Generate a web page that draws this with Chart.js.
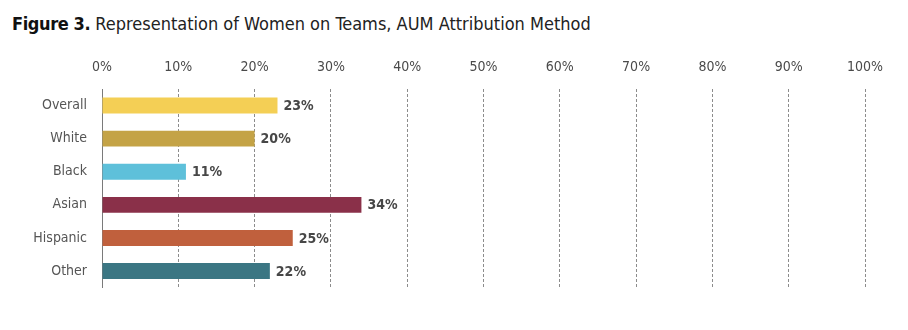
<!DOCTYPE html>
<html>
<head>
<meta charset="utf-8">
<script src="https://cdn.jsdelivr.net/npm/chart.js@4/dist/chart.umd.min.js"></script>
<style>
  html, body { margin: 0; padding: 0; background: #fff; }
  body { width: 908px; height: 330px; position: relative; overflow: hidden; }
  #title {
    position: absolute; left: 12px; top: 13px;
    font-family: "DejaVu Sans Condensed", sans-serif;
    font-size: 18px; color: #222; white-space: nowrap;
  }
  #title b { color: #111; letter-spacing: -0.4px; }
  #wrap { position: absolute; left: 0; top: 50px; width: 908px; height: 261px; }
</style>
</head>
<body>
<div id="title"><b>Figure 3.</b> Representation of Women on Teams, AUM Attribution Method</div>
<div id="wrap"><canvas id="chart"></canvas></div>
<script>
const categories = ["Overall", "White", "Black", "Asian", "Hispanic", "Other"];
const shares = [23, 20, 11, 34, 25, 22];
const barColors = ["#F4CF55", "#C4A346", "#5EC0DA", "#8A3049", "#C0603D", "#3B7683"];
const tickValues = [0, 10, 20, 30, 40, 50, 60, 70, 80, 90, 100];

const FONT = "'DejaVu Sans Condensed', sans-serif";

// Writes the percentage just past the end of each bar
const valueLabels = {
  id: "valueLabels",
  afterDatasetsDraw(chart) {
    const ctx = chart.ctx;
    const meta = chart.getDatasetMeta(0);
    ctx.save();
    ctx.font = "bold 14px " + FONT;
    ctx.fillStyle = "#474747";
    ctx.textAlign = "left";
    ctx.textBaseline = "middle";
    meta.data.forEach((bar, i) => {
      ctx.fillText(shares[i] + "%", bar.x + 6, bar.y + 1);
    });
    ctx.restore();
  }
};

new Chart(document.getElementById("chart"), {
  type: "bar",
  data: {
    labels: categories,
    datasets: [{
      data: shares,
      backgroundColor: barColors,
      borderWidth: 0,
      categoryPercentage: 0.48,
      barPercentage: 1
    }]
  },
  options: {
    indexAxis: "y",
    responsive: true,
    maintainAspectRatio: false,
    animation: false,
    layout: { padding: { left: 0, right: 43, top: 0, bottom: 13 } },
    plugins: { legend: { display: false }, tooltip: { enabled: false } },
    scales: {
      x: {
        position: "top",
        min: 0, max: 100,
        afterBuildTicks(scale) { scale.ticks = tickValues.map(v => ({ value: v })); },
        afterFit(scale) { scale.height = 39; },
        ticks: {
          padding: 13,
          color: "#4a4a4a",
          font: { family: FONT, size: 14 },
          callback: v => v + "%"
        },
        grid: {
          drawTicks: false,
          color: ctx => (ctx.tick && ctx.tick.value === 0) ? "rgba(0,0,0,0)" : "#8c8c8c",
          lineWidth: 1
        },
        border: { display: false, dash: [3, 2] }
      },
      y: {
        afterFit(scale) { scale.width = 102; },
        ticks: {
          padding: 15,
          color: "#555",
          font: { family: FONT, size: 14 }
        },
        grid: { display: false, drawTicks: false },
        border: { display: true, color: "#7a7a7a", width: 1 }
      }
    }
  },
  plugins: [valueLabels]
});
</script>
</body>
</html>
